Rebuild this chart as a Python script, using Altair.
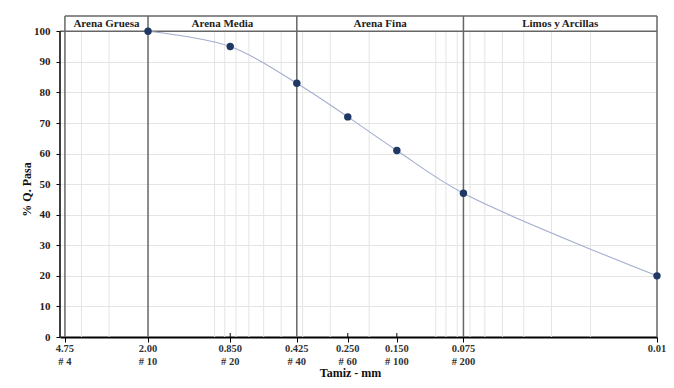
import altair as alt
import pandas as pd

# ---- data ----
sizes = [2.00, 0.850, 0.425, 0.250, 0.150, 0.075, 0.01]
passing = [100, 95, 83, 72, 61, 47, 20]

tick_sizes = [4.75, 2.00, 0.850, 0.425, 0.250, 0.150, 0.075, 0.01]
size_labels = ["4.75", "2.00", "0.850", "0.425", "0.250", "0.150", "0.075", "0.01"]
sieve_labels = ["# 4", "# 10", "# 20", "# 40", "#  60", "# 100", "# 200", ""]

zone_bounds = [4.75, 2.00, 0.425, 0.075, 0.01]
zone_names = ["Arena Gruesa", "Arena Media", "Arena Fina", "Limos y Arcillas"]

minor_grid = [5, 4, 3, 1, 0.9, 0.8, 0.7, 0.6, 0.5, 0.4, 0.3, 0.2,
              0.1, 0.09, 0.08, 0.07, 0.06, 0.05, 0.04, 0.03, 0.02]
y_ticks = list(range(0, 101, 10))
inner_ticks = [0.850, 0.250, 0.150]

X_MIN, X_MAX = 0.01, 5
Y_TOP, Y_BAND = 105, 100

W, H = 597, 321
FONT = "Liberation Serif"
DARK = "#666666"

xs = alt.Scale(type="log", domain=[X_MIN, X_MAX], reverse=True, nice=False)
ys = alt.Scale(domain=[0, Y_TOP], nice=False, zero=False)

x_axis = alt.Axis(values=tick_sizes, labels=False, grid=False,
                  tickSize=5, tickColor="#000000", tickWidth=1,
                  domainColor="#000000", domainWidth=2,
                  titleFont=FONT, titleFontSize=12, titleFontWeight="bold",
                  titleColor="#111111", titleX=290, titleY=30)
y_axis = alt.Axis(values=y_ticks, grid=True, gridColor="#e4e4e4",
                  domain=False, tickSize=4, tickColor="#000000",
                  labelFont=FONT, labelFontSize=11, labelFontWeight="bold",
                  labelColor="#222222", labelPadding=6,
                  titleFont=FONT, titleFontSize=12, titleFontWeight="bold",
                  titleColor="#111111", titlePadding=0, titleY=173)
X_TITLE = "Tamiz - mm"
Y_TITLE = "% Q. Pasa"


def X(field):
    return alt.X(field, scale=xs, axis=x_axis, title=X_TITLE)


def Y(field):
    return alt.Y(field, scale=ys, axis=y_axis, title=Y_TITLE)


curve_df = pd.DataFrame({"size": sizes, "pasa": passing})
grid_df = pd.DataFrame({"x": minor_grid, "y": 0, "y2": Y_BAND})
bounds_df = pd.DataFrame({"x": zone_bounds, "y": 0, "y2": Y_TOP})
zones_df = pd.DataFrame({
    "name": zone_names,
    "x": [(zone_bounds[i] * zone_bounds[i + 1]) ** 0.5 for i in range(len(zone_names))],
    "y": (Y_TOP + Y_BAND) / 2,
})
hlines_df = pd.DataFrame({"x": [X_MAX, zone_bounds[0]], "x2": [X_MIN, X_MIN], "y": [Y_BAND, Y_TOP]})
ylines_df = pd.DataFrame({"x": [X_MAX], "y": [0], "y2": [Y_BAND]})
labels_df = pd.DataFrame({"x": tick_sizes, "lab": size_labels, "sieve": sieve_labels})
inner_df = pd.DataFrame({"x": inner_ticks, "y": 0, "y2": 1.3})

grid = alt.Chart(grid_df).mark_rule(color="#e4e4e4", strokeWidth=1).encode(
    x=X("x:Q"), y=Y("y:Q"), y2="y2:Q",
)

bounds = alt.Chart(bounds_df).mark_rule(color=DARK, strokeWidth=1.5).encode(
    x=X("x:Q"), y=Y("y:Q"), y2="y2:Q",
)

hlines = alt.Chart(hlines_df).mark_rule(color=DARK, strokeWidth=1.5).encode(
    x=X("x:Q"), x2="x2:Q", y=Y("y:Q"),
)

yline = alt.Chart(ylines_df).mark_rule(color="#000000", strokeWidth=1.5).encode(
    x=X("x:Q"), y=Y("y:Q"), y2="y2:Q",
)

inner = alt.Chart(inner_df).mark_rule(color="#000000", strokeWidth=1).encode(
    x=X("x:Q"), y=Y("y:Q"), y2="y2:Q",
)

zones = alt.Chart(zones_df).mark_text(
    font=FONT, fontSize=11, fontWeight="bold", color="#222222", baseline="middle"
).encode(
    x=X("x:Q"), y=Y("y:Q"), text="name:N",
)

line = alt.Chart(curve_df).mark_line(
    interpolate="catmull-rom", color="#a3adcf", strokeWidth=1.1
).encode(
    x=X("size:Q"), y=Y("pasa:Q"),
)

points = alt.Chart(curve_df).mark_point(
    filled=True, size=55, color="#1f3864", opacity=1
).encode(
    x=X("size:Q"), y=Y("pasa:Q"),
)

xlab1 = alt.Chart(labels_df).mark_text(
    font=FONT, fontSize=10.5, fontWeight="bold", color="#333333", baseline="middle"
).encode(
    x=X("x:Q"), y=alt.value(H + 12), text="lab:N",
)

xlab2 = alt.Chart(labels_df).mark_text(
    font=FONT, fontSize=10.5, fontWeight="bold", color="#333333", baseline="middle"
).encode(
    x=X("x:Q"), y=alt.value(H + 25), text="sieve:N",
)

chart = alt.layer(
    grid, bounds, hlines, yline, line, points, inner, zones, xlab1, xlab2
).properties(
    width=W, height=H,
    autosize=alt.AutoSizeParams(type="none"),
    padding={"left": 52, "top": 8, "right": 9, "bottom": 43},
    background="white",
).configure_view(stroke=None)

chart.save("out.html", embed_options={"renderer": "svg", "actions": False})
